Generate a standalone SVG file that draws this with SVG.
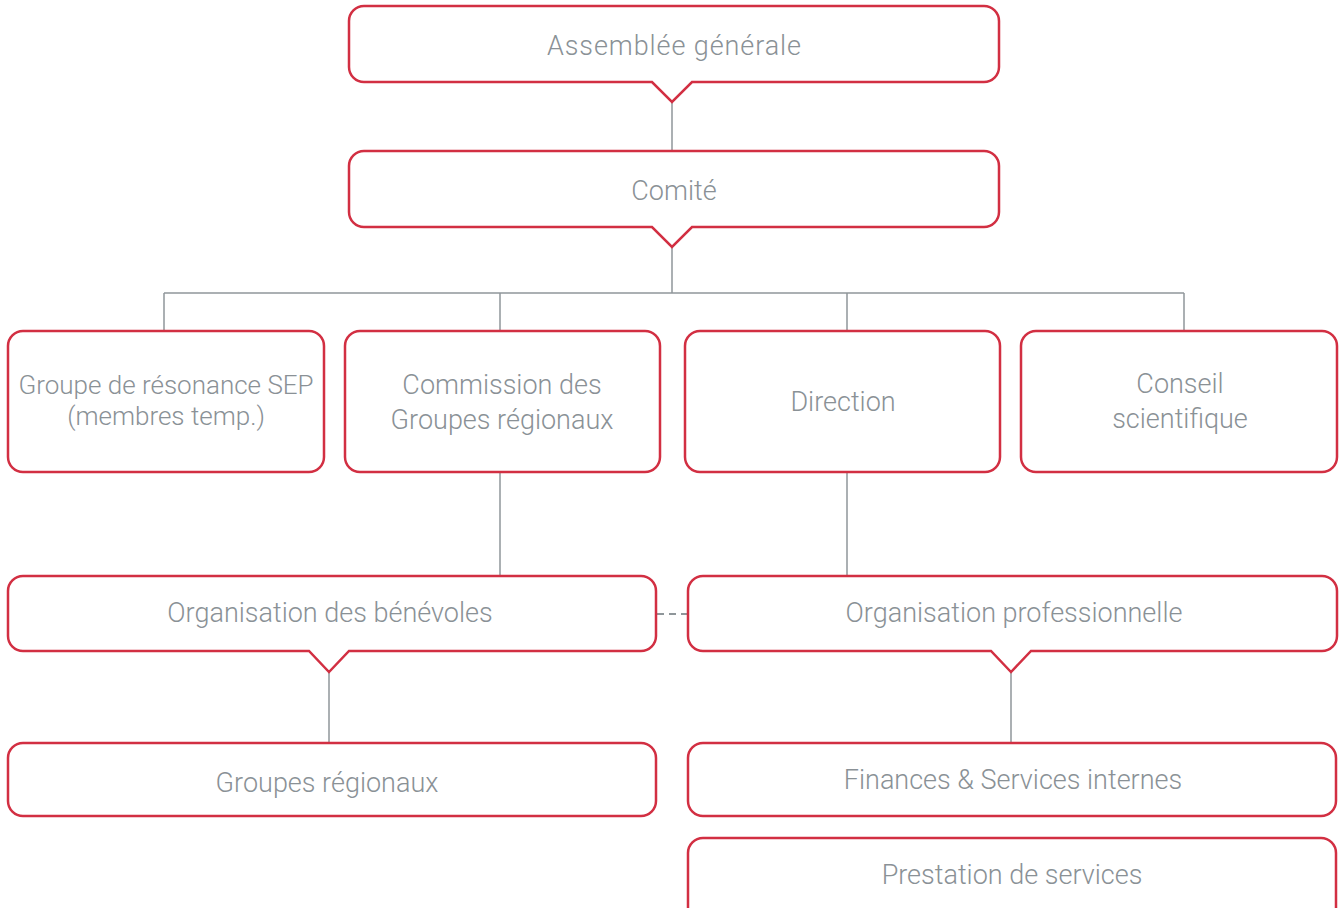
<svg xmlns="http://www.w3.org/2000/svg" width="1339" height="908" viewBox="0 0 1339 908">
<style>
.box{fill:#fff;stroke:#d22f42;stroke-width:2.5;stroke-linejoin:miter}
.ln{stroke:#8f969a;stroke-width:1.5;fill:none}
.dash{stroke:#8f969a;stroke-width:2;fill:none;stroke-dasharray:7 5}
text{font-family:Roboto,"Liberation Sans",sans-serif;font-weight:300;font-size:27px;fill:#8a9196;text-anchor:middle;dominant-baseline:central}
</style>
<rect width="1339" height="908" fill="#fff"/>
<g id="connectors">
<line class="ln" x1="672" y1="102" x2="672" y2="151"/>
<line class="ln" x1="672" y1="247" x2="672" y2="293"/>
<line class="ln" x1="164" y1="293" x2="1184" y2="293"/>
<line class="ln" x1="164" y1="293" x2="164" y2="331"/>
<line class="ln" x1="500" y1="293" x2="500" y2="331"/>
<line class="ln" x1="847" y1="293" x2="847" y2="331"/>
<line class="ln" x1="1184" y1="293" x2="1184" y2="331"/>
<line class="ln" x1="500" y1="472" x2="500" y2="576"/>
<line class="ln" x1="847" y1="472" x2="847" y2="576"/>
<line class="dash" x1="657" y1="614" x2="688" y2="614"/>
<line class="ln" x1="329" y1="672" x2="329" y2="743"/>
<line class="ln" x1="1011" y1="672" x2="1011" y2="743"/>
</g>
<g id="assemblee">
<path class="box" d="M364,6 H984 A15,15 0 0 1 999,21 V67 A15,15 0 0 1 984,82 H692 L672,102 L652,82 H364 A15,15 0 0 1 349,67 V21 A15,15 0 0 1 364,6 Z"/>
<text x="674" y="46" textLength="254">Assemblée générale</text>
</g>
<g id="comite">
<path class="box" d="M364,151 H984 A15,15 0 0 1 999,166 V212 A15,15 0 0 1 984,227 H692 L672,247 L652,227 H364 A15,15 0 0 1 349,212 V166 A15,15 0 0 1 364,151 Z"/>
<text x="674" y="191">Comité</text>
</g>
<g id="groupe-resonance">
<rect class="box" x="8" y="331" width="316" height="141" rx="15"/>
<text x="166" y="385" style="font-size:26px">Groupe de résonance SEP</text>
<text x="166" y="416" style="font-size:26px">(membres temp.)</text>
</g>
<g id="commission">
<rect class="box" x="345" y="331" width="315" height="141" rx="15"/>
<text x="502" y="385">Commission des</text>
<text x="502" y="420">Groupes régionaux</text>
</g>
<g id="direction">
<rect class="box" x="685" y="331" width="315" height="141" rx="15"/>
<text x="843" y="402">Direction</text>
</g>
<g id="conseil">
<rect class="box" x="1021" y="331" width="316" height="141" rx="15"/>
<text x="1180" y="384">Conseil</text>
<text x="1180" y="419">scientifique</text>
</g>
<g id="org-benevoles">
<path class="box" d="M23,576 H641 A15,15 0 0 1 656,591 V636 A15,15 0 0 1 641,651 H349 L329,672 L309,651 H23 A15,15 0 0 1 8,636 V591 A15,15 0 0 1 23,576 Z"/>
<text x="330" y="613">Organisation des bénévoles</text>
</g>
<g id="org-pro">
<path class="box" d="M703,576 H1322 A15,15 0 0 1 1337,591 V636 A15,15 0 0 1 1322,651 H1031 L1011,672 L991,651 H703 A15,15 0 0 1 688,636 V591 A15,15 0 0 1 703,576 Z"/>
<text x="1014" y="613">Organisation professionnelle</text>
</g>
<g id="groupes-regionaux">
<rect class="box" x="8" y="743" width="648" height="73" rx="15"/>
<text x="327" y="783">Groupes régionaux</text>
</g>
<g id="finances">
<rect class="box" x="688" y="743" width="648" height="73" rx="15"/>
<text x="1013" y="780">Finances &amp; Services internes</text>
</g>
<g id="prestation">
<rect class="box" x="688" y="838" width="648" height="100" rx="15"/>
<text x="1012" y="875">Prestation de services</text>
</g>
</svg>
